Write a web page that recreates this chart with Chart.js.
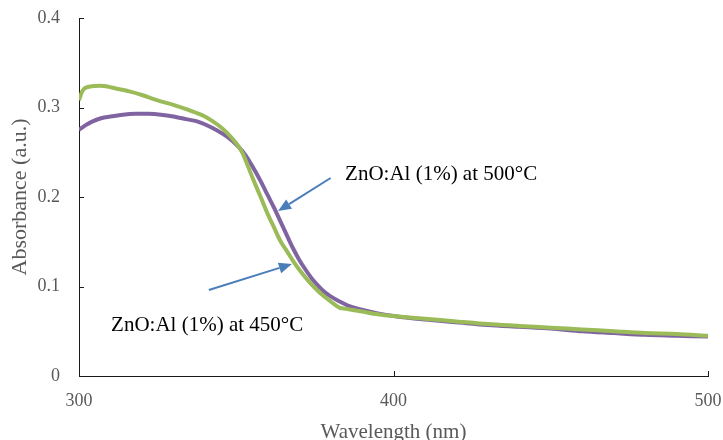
<!DOCTYPE html>
<html>
<head>
<meta charset="utf-8">
<script src="https://cdn.jsdelivr.net/npm/chart.js@4/dist/chart.umd.min.js"></script>
<style>
html,body{margin:0;padding:0;background:#fff;}
#wrap{width:723px;height:440px;position:relative;}
</style>
</head>
<body>
<div id="wrap"><canvas id="c" width="723" height="440"></canvas></div>
<script>
// ---- data ----
const wl450 = [300,301,302,305,308,312,316,320,325,330,335,340,344,347,350,352,355,358,360,362,364,366,368,370,373,376,379,382,383,385,390,395,400,410,420,430,440,450,460,470,480,490,500];
const abs450 = [0.308,0.318,0.322,0.324,0.324,0.321,0.318,0.314,0.308,0.303,0.297,0.290,0.281,0.272,0.260,0.249,0.223,0.198,0.181,0.166,0.151,0.140,0.129,0.119,0.106,0.095,0.086,0.078,0.076,0.075,0.072,0.069,0.067,0.064,0.061,0.058,0.056,0.054,0.052,0.050,0.048,0.047,0.045];

const wl500 = [300,302,304,307,310,314,318,322,326,330,334,338,342,346,349,352,354,356,358,360,362,364,366,368,370,372,374,376,378,380,383,386,390,395,400,410,420,430,440,450,460,470,480,490,500];
const abs500 = [0.275,0.280,0.284,0.288,0.290,0.292,0.293,0.293,0.292,0.290,0.287,0.284,0.278,0.270,0.262,0.251,0.241,0.229,0.216,0.202,0.188,0.173,0.158,0.143,0.130,0.119,0.109,0.101,0.094,0.089,0.083,0.078,0.074,0.070,0.067,0.063,0.060,0.057,0.055,0.053,0.050,0.048,0.046,0.045,0.044];

const seriesNames = ['ZnO:Al (1%) at 450°C','ZnO:Al (1%) at 500°C'];
const xTicks = [300,400,500];
const yTicks = [0,0.1,0.2,0.3,0.4];
const xTitle = 'Wavelength (nm)';
const yTitle = 'Absorbance (a.u.)';

// annotation anchors (data coordinates)
const notes = [
  {text: seriesNames[1], tx: 384.6, ty: 0.2257, from: [380.0, 0.2212], to: [363.3, 0.1844]},
  {text: seriesNames[0], tx: 310.2, ty: 0.057,  from: [341.3, 0.0961], to: [367.7, 0.1251]}
];

const toXY = (xs, ys) => xs.map((x, i) => ({x: x, y: ys[i]}));

const innerTicks = {
  id: 'innerTicks',
  afterDraw(chart) {
    const ctx = chart.ctx, xs = chart.scales.x, ys = chart.scales.y;
    ctx.save();
    ctx.strokeStyle = '#1a1a1a';
    ctx.lineWidth = 1;
    ctx.beginPath();
    yTicks.forEach(v => {
      if (v === 0) return;
      const py = Math.round(ys.getPixelForValue(v)) + 0.5;
      ctx.moveTo(xs.left, py); ctx.lineTo(xs.left + 5, py);
    });
    xTicks.forEach(v => {
      if (v === 300) return;
      const px = Math.round(xs.getPixelForValue(v)) + 0.5;
      ctx.moveTo(px, ys.bottom); ctx.lineTo(px, ys.bottom - 5);
    });
    ctx.stroke();
    ctx.restore();
  }
};

const annotations = {
  id: 'annotations',
  afterDatasetsDraw(chart) {
    const ctx = chart.ctx, xs = chart.scales.x, ys = chart.scales.y;
    ctx.save();
    notes.forEach(n => {
      const x1 = xs.getPixelForValue(n.from[0]), y1 = ys.getPixelForValue(n.from[1]);
      const x2 = xs.getPixelForValue(n.to[0]), y2 = ys.getPixelForValue(n.to[1]);
      const ang = Math.atan2(y2 - y1, x2 - x1);
      const hl = 13, hw = 5.5;
      const bx = x2 - hl * Math.cos(ang), by = y2 - hl * Math.sin(ang);
      ctx.strokeStyle = '#4A7EBB';
      ctx.fillStyle = '#4A7EBB';
      ctx.lineWidth = 2;
      ctx.beginPath();
      ctx.moveTo(x1, y1); ctx.lineTo(bx, by);
      ctx.stroke();
      ctx.beginPath();
      ctx.moveTo(x2, y2);
      ctx.lineTo(bx + hw * Math.sin(ang), by - hw * Math.cos(ang));
      ctx.lineTo(bx - hw * Math.sin(ang), by + hw * Math.cos(ang));
      ctx.closePath();
      ctx.fill();
      ctx.fillStyle = '#000';
      ctx.font = '21px "Liberation Serif", "Times New Roman", serif';
      ctx.textAlign = 'left';
      ctx.textBaseline = 'middle';
      ctx.fillText(n.text, xs.getPixelForValue(n.tx), ys.getPixelForValue(n.ty));
    });
    ctx.restore();
  }
};

const serif = '"Liberation Serif", "Times New Roman", serif';

new Chart(document.getElementById('c'), {
  type: 'line',
  data: {
    datasets: [
      {label: seriesNames[0], data: toXY(wl450, abs450), borderColor: '#9BBB59', backgroundColor: '#9BBB59', borderWidth: 4, pointRadius: 0, tension: 0.3, fill: false},
      {label: seriesNames[1], data: toXY(wl500, abs500), borderColor: '#8064A2', backgroundColor: '#8064A2', borderWidth: 4, pointRadius: 0, tension: 0.3, fill: false}
    ]
  },
  options: {
    responsive: false,
    animation: false,
    devicePixelRatio: 1,
    layout: {padding: {top: 18, right: 15, left: 0, bottom: 0}},
    plugins: {legend: {display: false}, tooltip: {enabled: false}},
    scales: {
      x: {
        type: 'linear', min: 300, max: 500,
        afterBuildTicks: s => { s.ticks = xTicks.map(v => ({value: v})); },
        afterFit: s => { s.height = 64; s.paddingLeft = 0; s.paddingRight = 0; },
        grid: {display: false, drawTicks: false},
        border: {display: true, color: '#1a1a1a', width: 1},
        ticks: {color: '#595959', font: {family: serif, size: 18}, padding: 14, maxRotation: 0},
        title: {display: true, text: xTitle, color: '#595959', font: {family: serif, size: 21}, padding: {top: 0, bottom: -5}}
      },
      y: {
        min: 0, max: 0.4,
        afterBuildTicks: s => { s.ticks = yTicks.map(v => ({value: v})); },
        afterFit: s => { s.width = 79; s.paddingTop = 0; s.paddingBottom = 0; },
        grid: {display: false, drawTicks: false},
        border: {display: true, color: '#1a1a1a', width: 1},
        ticks: {color: '#595959', font: {family: serif, size: 18}, padding: 19, callback: v => String(Math.round(v * 10) / 10)},
        title: {display: true, text: yTitle, color: '#595959', font: {family: serif, size: 22}, padding: {top: 7, bottom: 0}}
      }
    }
  },
  plugins: [innerTicks, annotations]
});
</script>
</body>
</html>
